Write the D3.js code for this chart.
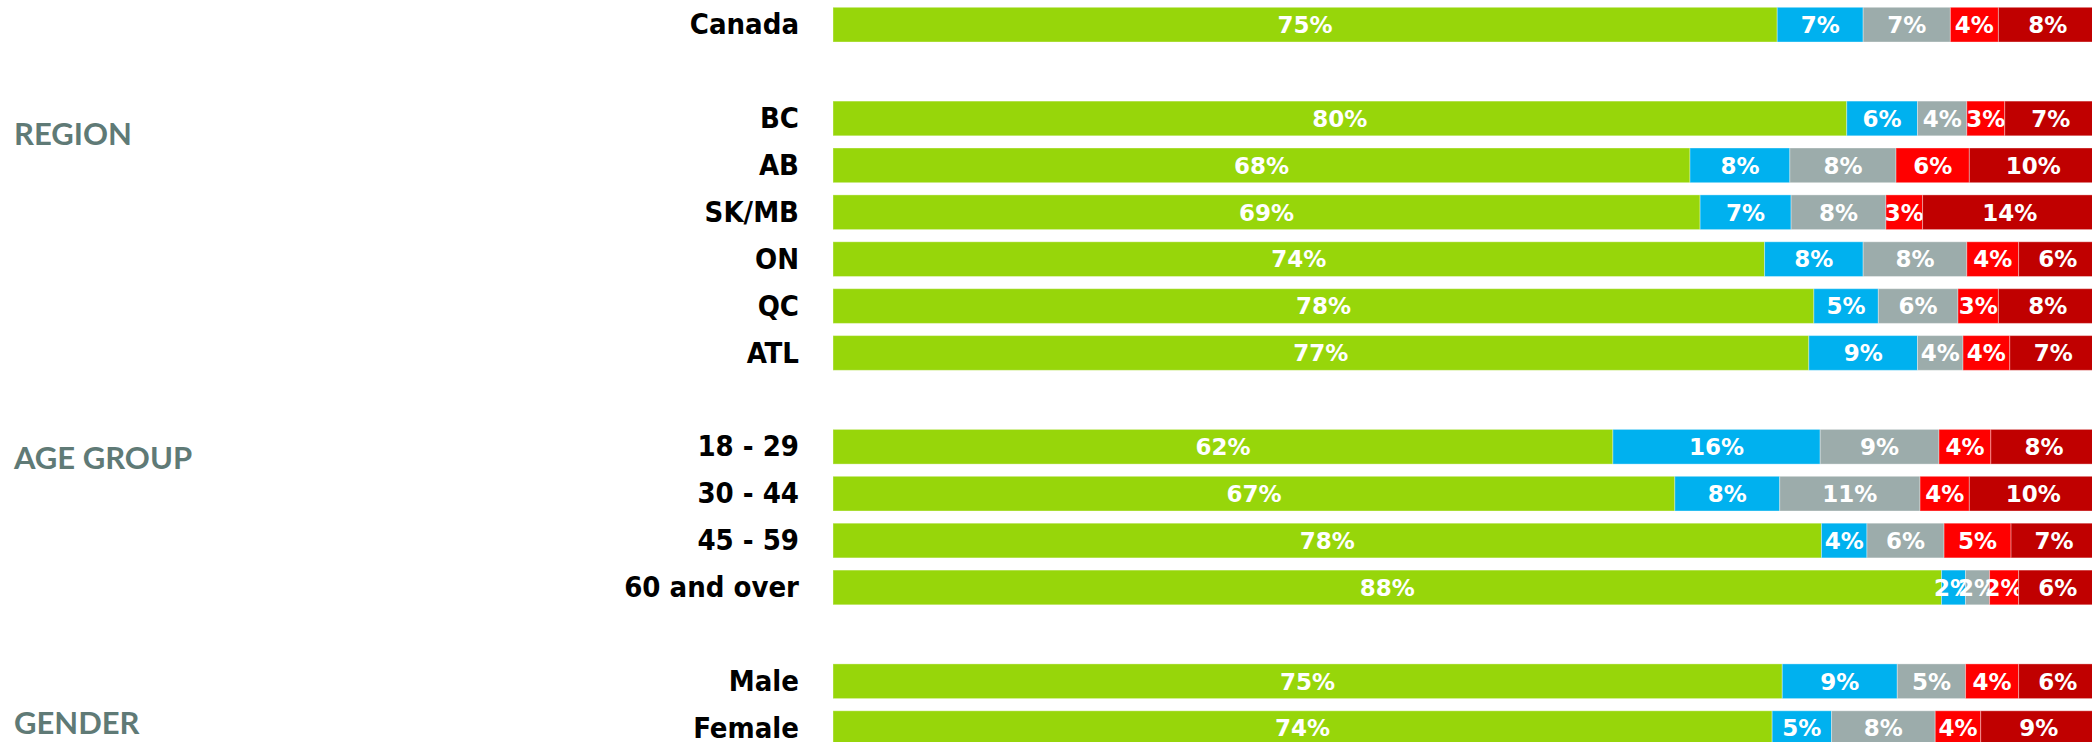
<!DOCTYPE html>
<html>
<head>
<meta charset="utf-8">
<script src="https://cdn.jsdelivr.net/npm/d3@7"></script>
<style>
  html, body { margin: 0; padding: 0; background: #fff; }
  svg { display: block; }
</style>
</head>
<body>
<script>
'use strict';

// rows, top to bottom
const categories = ["Canada", "BC", "AB", "SK/MB", "ON", "QC", "ATL",
                    "18 - 29", "30 - 44", "45 - 59", "60 and over", "Male", "Female"];
// group headings and how many rows each group holds
const groupNames = [null, "REGION", "AGE GROUP", "GENDER"];
const groupSizes = [1, 6, 4, 2];

// the five answer shares (%), one value per row
const seriesKeys = ["answer1", "answer2", "answer3", "answer4", "answer5"];
const answer1 = [74.7, 80.2, 67.8, 68.6, 73.7, 77.6, 77.2, 61.7, 66.6, 78.2, 87.7, 75.1, 74.3];
const answer2 = [6.8, 5.6, 7.9, 7.2, 7.8, 5.1, 8.6, 16.4, 8.3, 3.6, 1.9, 9.1, 4.7];
const answer3 = [6.9, 3.9, 8.4, 7.5, 8.2, 6.3, 3.6, 9.4, 11.1, 6.1, 1.9, 5.4, 8.2];
const answer4 = [3.8, 3.0, 5.8, 2.9, 4.1, 3.2, 3.7, 4.1, 3.9, 5.3, 2.3, 4.2, 3.6];
const answer5 = [7.8, 7.3, 10.1, 13.8, 6.2, 7.8, 6.9, 8.4, 10.1, 6.8, 6.2, 6.2, 9.2];

const colors = ["#97d60a", "#00b1ef", "#9cacab", "#ff0000", "#c00000"];

const W = 2092, H = 742,
      barLeft = 833,
      barRight = 2097,   // 100% sits just past the right edge
      labelRight = 799;

// table for d3.stack
const seriesValues = [answer1, answer2, answer3, answer4, answer5];
const table = categories.map((c, i) => {
  const row = { category: c };
  seriesKeys.forEach((k, j) => { row[k] = seriesValues[j][i]; });
  return row;
});

// band domain, with a blank slot between groups
const slots = [];
let idx = 0;
groupSizes.forEach((n, g) => {
  if (g > 0) slots.push("__gap" + g);
  for (let i = 0; i < n; i++) slots.push(categories[idx++]);
});

const y = d3.scaleBand()
    .domain(slots)
    .range([1.2, 1.2 + slots.length * 46.9])
    .paddingInner(0.26)
    .paddingOuter(0.13);

const x = d3.scaleLinear().domain([0, 100]).range([barLeft, barRight]);

const stack = d3.stack().keys(seriesKeys);
const stacked = stack(table);

const svg = d3.select("body").append("svg")
    .attr("width", W)
    .attr("height", H);

// bars
const layers = svg.append("g").selectAll("g")
  .data(stacked)
  .join("g")
    .attr("fill", (d, i) => colors[i]);

layers.selectAll("rect")
  .data(d => d)
  .join("rect")
    .attr("x", d => x(d[0]))
    .attr("y", d => y(d.data.category))
    .attr("width", d => x(d[1]) - x(d[0]))
    .attr("height", y.bandwidth())
    .attr("stroke", "rgba(255,255,255,0.35)")
    .attr("stroke-width", 1);

// value labels
layers.selectAll("text")
  .data(d => d)
  .join("text")
    .attr("x", d => (x(d[0]) + x(d[1])) / 2)
    .attr("y", d => y(d.data.category) + y.bandwidth() / 2)
    .attr("dy", "0.36em")
    .attr("text-anchor", "middle")
    .attr("fill", "#fff")
    .style("font-family", "'DejaVu Sans', sans-serif")
    .style("font-weight", "bold")
    .style("font-size", "23px")
    .text(d => Math.round(d[1] - d[0]) + "%");

// row labels
svg.append("g").selectAll("text")
  .data(categories)
  .join("text")
    .attr("x", labelRight)
    .attr("y", d => y(d) + y.bandwidth() / 2)
    .attr("dy", "0.33em")
    .attr("text-anchor", "end")
    .attr("fill", "#000")
    .style("font-family", "'DejaVu Sans Condensed', 'DejaVu Sans', sans-serif")
    .style("font-stretch", "condensed")
    .style("font-weight", "bold")
    .style("font-size", "29px")
    .text(d => d);

// group headings, placed next to a row of their group
const headingAnchor = { "REGION": ["BC", 32.5], "AGE GROUP": ["18 - 29", 28], "GENDER": ["Female", 12] };
svg.append("g").selectAll("text")
  .data(groupNames.filter(d => d))
  .join("text")
    .attr("x", 14)
    .attr("y", d => y(headingAnchor[d][0]) + headingAnchor[d][1])
    .attr("dy", "0.36em")
    .attr("fill", "#5f7a76")
    .style("font-family", "Lato, sans-serif")
    .style("font-weight", "bold")
    .style("font-size", "31px")
    .text(d => d);
</script>
</body>
</html>
